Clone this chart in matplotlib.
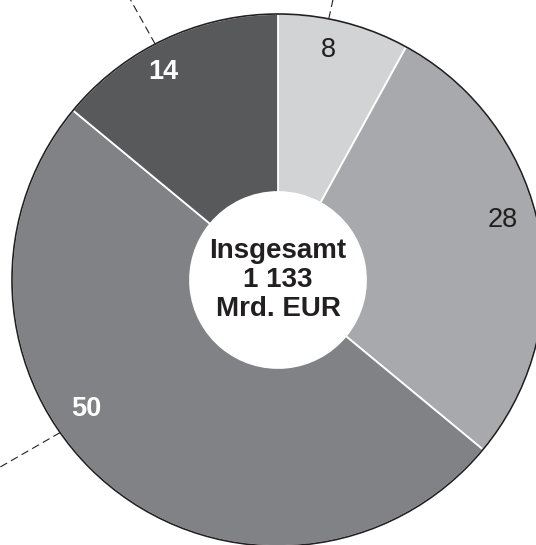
import numpy as np
import matplotlib
matplotlib.use('Agg')
import matplotlib.pyplot as plt
from matplotlib.patches import Circle

plt.rcParams['font.family'] = ['Liberation Sans', 'DejaVu Sans']

# Anteile in %
shares = [8, 28, 50, 14]
labels = ['8', '28', '50', '14']
colors = ['#d1d3d4', '#a7a9ac', '#808285', '#58595b']
label_colors = ['#231f20', '#231f20', 'white', 'white']
label_weights = ['normal', 'normal', 'bold', 'bold']
total_text = 'Insgesamt\n1 133\nMrd. EUR'

W, H = 536, 545
cx, cy = 278, H - 280
r_out, r_in = 266, 88

fig = plt.figure(figsize=(W / 100, H / 100), dpi=100)
ax = fig.add_axes([0, 0, 1, 1])

wedges, _ = ax.pie(shares, colors=colors, startangle=90, counterclock=False,
                   center=(cx, cy), radius=r_out,
                   wedgeprops=dict(width=r_out - r_in, edgecolor='white', linewidth=1.3))

# dunkler Außenrand
ax.add_patch(Circle((cx, cy), r_out, fill=False, edgecolor='#231f20', linewidth=1.2, zorder=5))

# Beschriftungen (Pixelpositionen im Bild)
label_pos = [(328, 50), (503, 220), (86, 409), (163, 72)]
for lab, (px, py), c, w in zip(labels, label_pos, label_colors, label_weights):
    ax.text(px, H - py, lab, ha='center', va='center', fontsize=19.5,
            color=c, fontweight=w, zorder=6)

ax.text(cx, cy, total_text, ha='center', va='center', fontsize=20,
        fontweight='bold', color='#231f20', linespacing=1.15, zorder=6)

# gestrichelte Hinweislinien (abgeschnitten)
leaders = [(11, (334, -5)), (332.5, (125, -10)), (235, (-5, 470))]
for ang, (ex, ey) in leaders:
    a = np.deg2rad(ang)
    sx, sy = cx + r_out * np.sin(a), cy + r_out * np.cos(a)
    ax.plot([sx, ex], [sy, H - ey], color='#231f20', linewidth=0.8,
            dashes=(7, 4), zorder=4, clip_on=False)

ax.set_xlim(0, W)
ax.set_ylim(0, H)
ax.set_aspect('equal')
ax.axis('off')

fig.savefig('out.png', dpi=100)
